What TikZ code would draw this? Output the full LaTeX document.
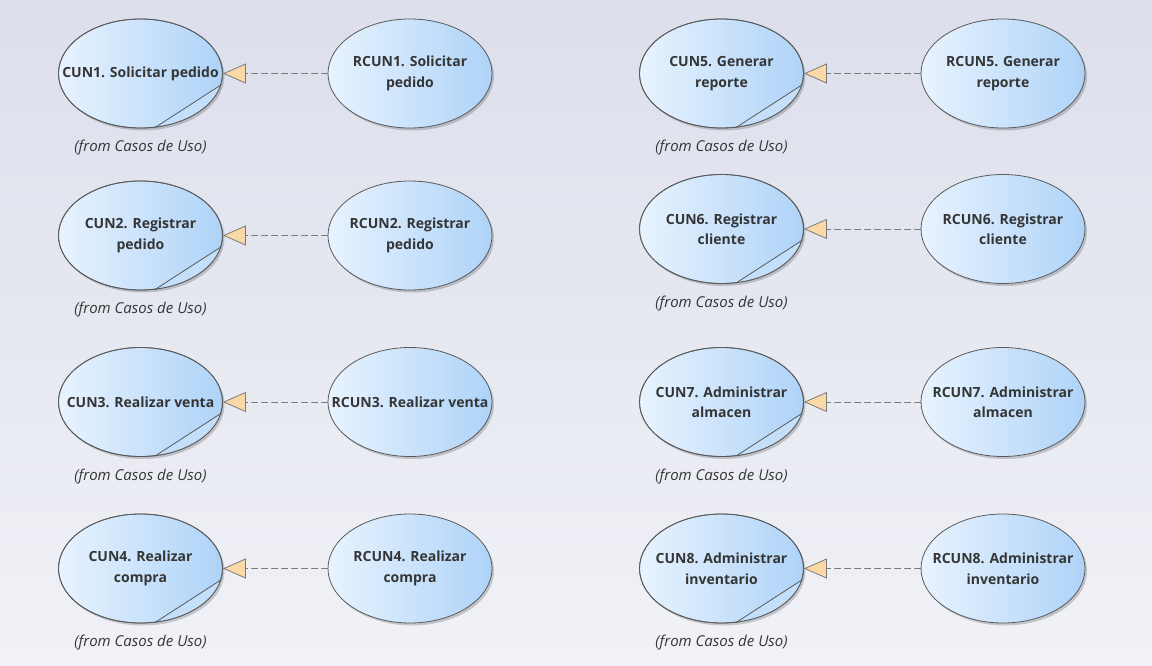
\documentclass[tikz,border=0pt]{standalone}
\usepackage{fontspec}
\setmainfont{Open Sans}
\usetikzlibrary{shapes.geometric}
\usetikzlibrary{arrows.meta}
\usetikzlibrary{positioning}
\usetikzlibrary{shadows}

\definecolor{fondoarriba}{HTML}{DCDFEB}
\definecolor{fondoabajo}{HTML}{F1F2F7}
\definecolor{cuizq}{HTML}{E8F3FE}
\definecolor{cuder}{HTML}{AED3F8}
\definecolor{pliegue}{HTML}{C4DFFA}
\definecolor{borde}{HTML}{5A5A5A}
\definecolor{texto}{HTML}{353535}
\definecolor{punta}{HTML}{FBD9A6}
\definecolor{linea}{HTML}{7A7A7A}

% esquina doblada de un caso de uso
\newcommand{\doblez}[1]{%
	\begin{scope}
		\clip (#1.center) ellipse (82 and 54.5);
		\fill[pliegue] (#1.-75) -- (#1.-8) -- ++(60,0) -- ++(0,80) -- cycle;
	\end{scope}
	\draw[borde, line width=0.8pt] (#1.center) ellipse (82 and 54.5);
	\draw[borde, line width=0.8pt] (#1.-75) -- (#1.-8);
}

\begin{document}
\begin{tikzpicture}[x=1pt, y=-1pt, line cap=round, line join=round,
	caso/.style={ellipse, draw=borde, line width=0.8pt, inner xsep=-40pt, inner ysep=0pt,
		minimum width=164pt, minimum height=109pt, align=center,
		left color=cuizq, right color=cuder, text=texto,
		font=\bfseries\fontsize{14}{20.5}\selectfont,
		drop shadow={shadow xshift=2pt, shadow yshift=-2.5pt, opacity=0.18, fill=black}},
	desde/.style={inner sep=0pt, text=texto, font=\itshape\fontsize{15}{16}\selectfont},
	realiza/.style={draw=linea, line width=0.8pt, dash pattern=on 6pt off 4pt,
		-{Triangle[length=23pt, width=20pt, fill=punta, line width=0.8pt]}}]
		% fondo
		\shade[top color=fondoarriba, bottom color=fondoabajo] (0,0) rectangle (1152,666);
		\useasboundingbox (0,0) rectangle (1152,666);
		% casos de uso izquierda
		\node[caso] (cun1) at (140.5,73.5) {CUN1. Solicitar pedido};
		\node[caso] (cun2) at (140.5,235.5) {CUN2. Registrar\\pedido};
		\node[caso] (cun3) at (140.5,402) {CUN3. Realizar venta};
		\node[caso] (cun4) at (140.5,568.5) {CUN4. Realizar\\compra};
		\node[caso] (rcun1) at (410,73.5) {RCUN1. Solicitar\\pedido};
		\node[caso] (rcun2) at (410,235.5) {RCUN2. Registrar\\pedido};
		\node[caso] (rcun3) at (410,402) {RCUN3. Realizar venta};
		\node[caso] (rcun4) at (410,568.5) {RCUN4. Realizar\\compra};
		% casos de uso derecha
		\node[caso] (cun5) at (721.5,73.5) {CUN5. Generar\\reporte};
		\node[caso] (cun6) at (721.5,229) {CUN6. Registrar\\cliente};
		\node[caso] (cun7) at (721.5,402) {CUN7. Administrar\\almacen};
		\node[caso] (cun8) at (721.5,568.5) {CUN8. Administrar\\inventario};
		\node[caso] (rcun5) at (1003,73.5) {RCUN5. Generar\\reporte};
		\node[caso] (rcun6) at (1003,229) {RCUN6. Registrar\\cliente};
		\node[caso] (rcun7) at (1003,402) {RCUN7. Administrar\\almacen};
		\node[caso] (rcun8) at (1003,568.5) {RCUN8. Administrar\\inventario};
		% dobleces
		\doblez{cun1} \doblez{cun2} \doblez{cun3} \doblez{cun4}
		\doblez{cun5} \doblez{cun6} \doblez{cun7} \doblez{cun8}
		% paquete de origen
		\node[desde, below=11.5pt of cun1] (desde1) {(from Casos de Uso)};
		\node[desde, below=11.5pt of cun2] (desde2) {(from Casos de Uso)};
		\node[desde, below=11.5pt of cun3] (desde3) {(from Casos de Uso)};
		\node[desde, below=11.5pt of cun4] (desde4) {(from Casos de Uso)};
		\node[desde, below=11.5pt of cun5] (desde5) {(from Casos de Uso)};
		\node[desde, below=11.5pt of cun6] (desde6) {(from Casos de Uso)};
		\node[desde, below=11.5pt of cun7] (desde7) {(from Casos de Uso)};
		\node[desde, below=11.5pt of cun8] (desde8) {(from Casos de Uso)};
		% realizaciones
		\draw[realiza] (rcun1) -- (cun1);
		\draw[realiza] (rcun2) -- (cun2);
		\draw[realiza] (rcun3) -- (cun3);
		\draw[realiza] (rcun4) -- (cun4);
		\draw[realiza] (rcun5) -- (cun5);
		\draw[realiza] (rcun6) -- (cun6);
		\draw[realiza] (rcun7) -- (cun7);
		\draw[realiza] (rcun8) -- (cun8);
\end{tikzpicture}
\end{document}
